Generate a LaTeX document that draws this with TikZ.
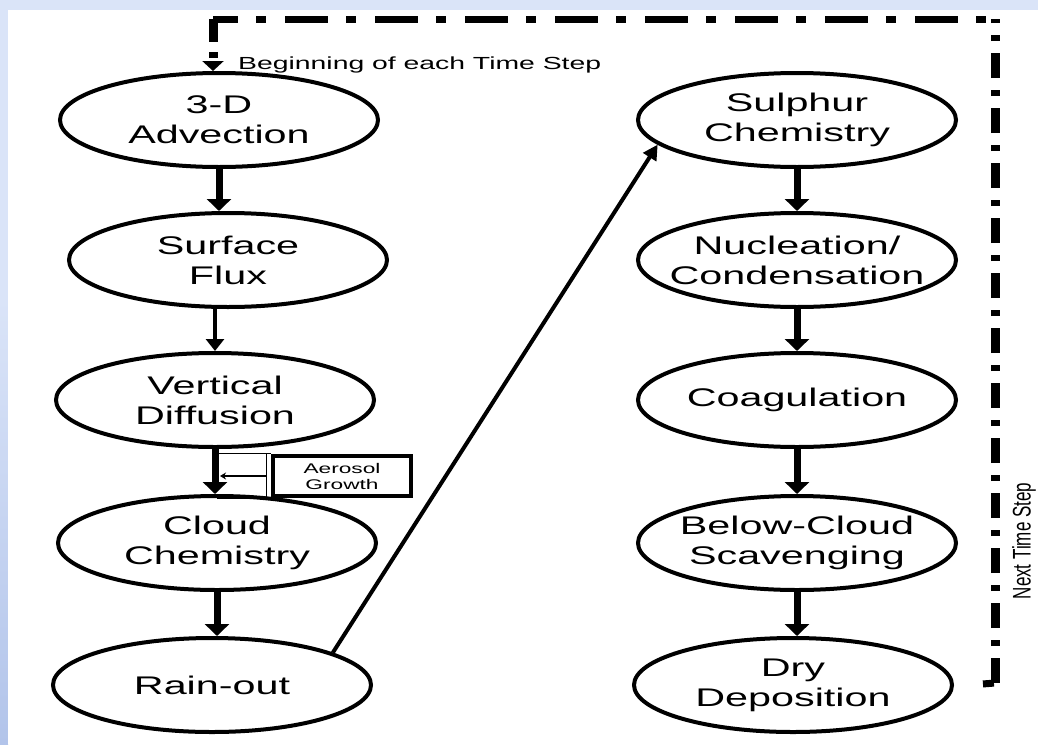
\documentclass[tikz,border=0pt]{standalone}
\usepackage{graphicx}
\usepackage{fontspec}
\setmainfont{Liberation Sans}[FakeStretch=1.62]
\newfontfamily\plainsans{Liberation Sans}
\usetikzlibrary{shapes.geometric,arrows.meta}
\definecolor{slideblue}{RGB}{218,228,248}
\definecolor{slidedeep}{RGB}{178,196,234}
\tikzset{
  stage/.style={ellipse, draw, line width=4pt, minimum width=318pt, minimum height=94pt,
    inner xsep=-60pt, inner ysep=0pt, align=center, font=\fontsize{25.5}{30}\selectfont},
  agbox/.style={rectangle, draw, line width=4.5pt, minimum width=138pt, minimum height=40pt,
    inner sep=0pt, align=center, font=\fontsize{14}{16}\selectfont},
  flow/.style={line width=7pt, -{Triangle[length=12pt,width=24pt]}},
  thinflow/.style={line width=4pt, -{Triangle[length=12pt,width=18pt]}},
  jump/.style={line width=4pt, -{Triangle[length=15pt,width=15pt]}},
  loopv/.style={line width=9pt, dash pattern=on 25pt off 12pt on 6pt off 12pt},
  looph/.style={line width=7pt, dash pattern=on 43pt off 18pt on 10pt off 19pt, dash phase=18pt},
}
\begin{document}
\begin{tikzpicture}[x=1pt,y=-1pt]
\useasboundingbox (0,0) rectangle (1038,744);
\fill[slideblue] (0,0) rectangle (1038,744);
\shade[top color=slideblue, bottom color=slidedeep] (0,300) rectangle (8,744);
\fill[white] (8,10) rectangle (1038,744);
% left column
\node[stage] (adv) at (219,120) {3-D\\Advection};
\node[stage] (flux) at (228,260) {Surface\\Flux};
\node[stage] (vdiff) at (215,400) {Vertical\\Diffusion};
\node[stage] (cloud) at (217,543) {Cloud\\Chemistry};
\node[stage] (rain) at (212,685) {Rain-out};
% right column
\node[stage] (sul) at (797,120) {Sulphur\\Chemistry};
\node[stage] (nuc) at (797,260) {Nucleation/\\Condensation};
\node[stage] (coag) at (797,400) {Coagulation};
\node[stage] (bcs) at (797,543) {Below-Cloud\\Scavenging};
\node[stage] (dry) at (793,685) {Dry\\Deposition};
\node[agbox] (ag) at (342,476) {Aerosol\\Growth};
\draw[flow] (adv.south) -- (adv.south |- flux.north);
\draw[thinflow] (vdiff.north |- flux.south) -- (vdiff.north);
\draw[flow] (vdiff.south) -- (vdiff.south |- cloud.north);
\draw[flow] (cloud.south) -- (cloud.south |- rain.north);
\draw[jump] (rain.15) -- (sul.190);
\draw[flow] (sul.south) -- (nuc.north);
\draw[flow] (nuc.south) -- (coag.north);
\draw[flow] (coag.south) -- (bcs.north);
\draw[flow] (bcs.south) -- (bcs.south |- dry.north);
% aerosol growth side box
\draw[line width=1.2pt] ([xshift=-4pt]ag.north west) -- ([xshift=-4pt]ag.south west);
\draw[line width=1.2pt] (ag.north west) -- (ag.north west -| vdiff.south);
\draw[line width=1.2pt] (ag.south west) -- (ag.south west -| cloud.north);
\draw[line width=1.2pt, -{Stealth[length=6pt,width=7pt]}] ([xshift=-4pt]ag.west) -- ([xshift=5pt]ag.west -| vdiff.south);
% time step loop
\coordinate (lpbr) at (995,683);
\coordinate (lptr) at (995,19);
\coordinate (lptl) at (213,19);
\draw[looph, dash pattern=on 11pt off 20pt] ([xshift=16pt]dry.east) -- (lpbr);
\draw[loopv] (lpbr) -- (lptr);
\draw[looph] (lptl) -- (lptr);
\draw[loopv, dash pattern=on 23pt off 10pt on 6pt off 10pt, -{Triangle[length=10pt,width=21pt]}] (lptl) -- (lptl |- adv.north);
\node[anchor=base west, inner sep=0pt, font=\fontsize{17.5}{20}\selectfont] (begin) at (238,69) {Beginning of each Time Step};
\node[rotate=90, font=\fontsize{17}{20}\plainsans] (next) at (1024,541) {\scalebox{1}[1.5]{Next Time Step}};
\end{tikzpicture}
\end{document}
